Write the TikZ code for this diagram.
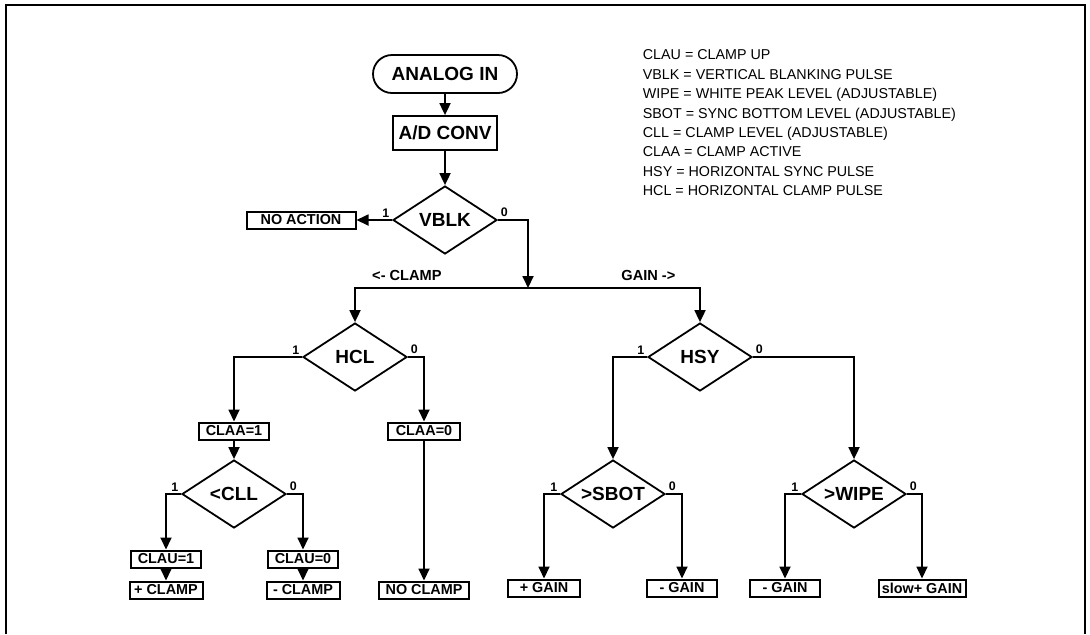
\documentclass[tikz,border=0pt]{standalone}
\usepackage{fontspec}
\setmainfont{Liberation Sans}
\usetikzlibrary{shapes.geometric,arrows.meta}

\begin{document}
\begin{tikzpicture}[x=0.5pt, y=-0.5pt, line width=0.9pt,
    arr/.style={-{Triangle[width=5.5pt,length=6pt]}},
    decision/.style={draw, diamond, aspect=1.5, inner sep=0pt, minimum width=52pt, minimum height=34pt, font=\fontsize{9.5}{11}\selectfont\bfseries},
    block/.style={draw, rectangle, inner sep=0pt, minimum height=17pt, font=\fontsize{9.5}{11}\selectfont\bfseries},
    tag/.style={draw, rectangle, inner sep=0pt, line width=1pt, minimum height=8.5pt, font=\fontsize{7.2}{8}\selectfont\bfseries},
    bit/.style={inner sep=1pt, font=\fontsize{6.2}{7}\selectfont\bfseries},
    way/.style={inner sep=1pt, font=\fontsize{7.3}{8}\selectfont\bfseries}]
    \useasboundingbox (0,0) rectangle (1090,634);

    % Frame
    \draw[line width=1.1pt] (6,634) -- (6,5) -- (1085,5) -- (1085,634);

    % Input chain
    \node[draw, rounded corners=9.5pt, minimum width=72pt, minimum height=19pt, inner sep=0pt, font=\fontsize{9.5}{11}\selectfont\bfseries] (analog) at (445,74) {ANALOG IN};
    \node[block, minimum width=52pt] (adconv) at (445,133) {A/D CONV};
    \node[decision] (vblk) at (445,220) {VBLK};
    \node[tag, minimum width=54.5pt] (noaction) at (301,220) {NO ACTION};
    \coordinate (split) at (528,288);

    \draw[arr] (analog) -- (adconv);
    \draw[arr] (adconv) -- (vblk);
    \draw[arr] (vblk.west) node[bit, above left] {1} -- (noaction);
    \draw[arr] (vblk.east) node[bit, above right] {0} -| (split);

    % Clamp branch
    \node[decision] (hcl) at (355,357) {HCL};
    \node[tag, minimum width=35pt] (claa1) at (234,431) {CLAA=1};
    \node[tag, minimum width=36pt] (claa0) at (424,431) {CLAA=0};
    \node[decision] (cll) at (234,494) {<CLL};
    \node[tag, minimum width=35pt] (clau1) at (166,559) {CLAU=1};
    \node[tag, minimum width=36.5pt] (pclamp) at (166,590) {+ CLAMP};
    \node[tag, minimum width=35pt] (clau0) at (303,559) {CLAU=0};
    \node[tag, minimum width=36.5pt] (mclamp) at (303,590) {- CLAMP};
    \node[tag, minimum width=45pt] (noclamp) at (424,590) {NO CLAMP};

    \draw[arr] (split) -| node[way, pos=0.35, above=2pt] {<- CLAMP} (hcl);
    \draw[arr] (hcl.west) node[bit, above left] {1} -| (claa1);
    \draw[arr] (hcl.east) node[bit, above right] {0} -| (claa0);
    \draw[arr] (claa1) -- (cll);
    \draw[arr] (cll.west) node[bit, above left] {1} -| (clau1);
    \draw[arr] (cll.east) node[bit, above right] {0} -| (clau0);
    \draw[arr] (clau1) -- (pclamp);
    \draw[arr] (clau0) -- (mclamp);
    \draw[arr] (claa0) -- (noclamp);

    % Gain branch
    \node[decision] (hsy) at (700,357) {HSY};
    \node[decision] (sbot) at (613,494) {>SBOT};
    \node[decision] (wipe) at (854,494) {>WIPE};
    \node[tag, minimum width=36pt] (pgain) at (544,588) {+ GAIN};
    \node[tag, minimum width=35pt] (mgaina) at (682,588) {- GAIN};
    \node[tag, minimum width=35pt] (mgainb) at (785,588) {- GAIN};
    \node[tag, minimum width=43.5pt] (slowgain) at (922,588) {slow+ GAIN};

    \draw[arr] (split) -| node[way, pos=0.35, above=2pt] {GAIN ->} (hsy);
    \draw[arr] (hsy.west) node[bit, above left] {1} -| (sbot);
    \draw[arr] (hsy.east) node[bit, above right] {0} -| (wipe);
    \draw[arr] (sbot.west) node[bit, above left] {1} -| (pgain);
    \draw[arr] (sbot.east) node[bit, above right] {0} -| (mgaina);
    \draw[arr] (wipe.west) node[bit, above left] {1} -| (mgainb);
    \draw[arr] (wipe.east) node[bit, above right] {0} -| (slowgain);

    % Legend
    \node[anchor=north west, align=left, inner sep=0pt, font=\fontsize{7.15}{9.7}\selectfont] (legend) at (642,49) {CLAU = CLAMP UP\\
        VBLK = VERTICAL BLANKING PULSE\\
        WIPE = WHITE PEAK LEVEL (ADJUSTABLE)\\
        SBOT = SYNC BOTTOM LEVEL (ADJUSTABLE)\\
        CLL = CLAMP LEVEL (ADJUSTABLE)\\
        CLAA = CLAMP ACTIVE\\
        HSY = HORIZONTAL SYNC PULSE\\
        HCL = HORIZONTAL CLAMP PULSE};
\end{tikzpicture}
\end{document}
